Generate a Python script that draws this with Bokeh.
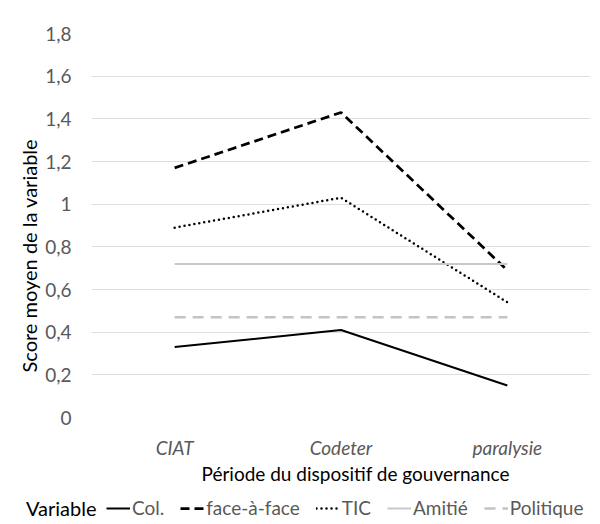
from bokeh.plotting import figure
from bokeh.layouts import column
from bokeh.models import (FactorRange, Range1d, FixedTicker, CustomJSTickFormatter,
                          Legend, LegendItem, Title)
from bokeh.embed import file_html
from bokeh.resources import INLINE

categories = ["CIAT", "Codeter", "paralysie"]
col_vals = [0.33, 0.41, 0.15]
face_vals = [1.17, 1.43, 0.69]
tic_vals = [0.89, 1.03, 0.54]
amitie_vals = [0.72, 0.72, 0.72]
politique_vals = [0.47, 0.47, 0.47]
y_ticks = [0, 0.2, 0.4, 0.6, 0.8, 1.0, 1.2, 1.4, 1.6, 1.8]
series_names = ["Col.", "face-à-face", "TIC", "Amitié", "Politique"]
legend_title = "Variable"

FONT = "Lato"
GRAY = "#595959"
FS = "19px"

styles = [
    dict(line_color="black", line_width=2),
    dict(line_color="black", line_width=2.75, line_dash="9 5"),
    dict(line_color="black", line_width=2.5, line_dash="0 5", line_cap="round"),
    dict(line_color="#c8c8c8", line_width=2),
    dict(line_color="#c4c4c4", line_width=2.5, line_dash="11 7"),
]
series_vals = [col_vals, face_vals, tic_vals, amitie_vals, politique_vals]

# ---- main chart ----
p = figure(width=600, height=490, output_backend="svg", toolbar_location=None,
           x_range=FactorRange(*categories, range_padding=0),
           y_range=Range1d(0, 1.8),
           min_border_left=91, min_border_right=10, min_border_top=33, min_border_bottom=73)
p.outline_line_color = None
p.xgrid.grid_line_color = None
p.ygrid.grid_line_color = "#dedede"
p.ygrid.grid_line_width = 1

p.yaxis.ticker = FixedTicker(ticks=y_ticks)
p.yaxis.formatter = CustomJSTickFormatter(code="return tick.toFixed(1).replace('.', ',').replace(',0', '');")
for ax in (p.xaxis, p.yaxis):
    ax.axis_line_color = None
    ax.major_tick_line_color = None
    ax.minor_tick_line_color = None
    ax.major_label_text_color = GRAY
    ax.major_label_text_font = FONT
    ax.major_label_text_font_size = FS
p.yaxis.major_label_standoff = 14
p.xaxis.major_label_standoff = 12
p.xaxis.major_label_text_font_style = "italic"

for vals, st in zip(series_vals, styles):
    p.line(categories, vals, **st)

p.add_layout(Title(text="Score moyen de la variable", align="left", offset=45, standoff=4,
                   text_font=FONT, text_font_size="20px", text_font_style="normal",
                   text_color="black"), "left")
p.add_layout(Title(text="Période du dispositif de gouvernance", align="left", offset=110, standoff=-4,
                   text_font=FONT, text_font_size=FS, text_font_style="normal",
                   text_color="black"), "below")

# ---- legend strip ----
q = figure(width=600, height=34, output_backend="svg", toolbar_location=None,
           x_range=Range1d(0, 499), y_range=FactorRange(legend_title),
           x_axis_type=None, min_border=0)
q.outline_line_color = None
q.xgrid.visible = False
q.ygrid.visible = False
q.yaxis.axis_line_color = None
q.yaxis.major_tick_line_color = None
q.yaxis.minor_tick_line_color = None
q.yaxis.major_label_text_color = "black"
q.yaxis.major_label_text_font = FONT
q.yaxis.major_label_text_font_size = "20px"
q.yaxis.major_label_standoff = -11
items = []
for name, st in zip(series_names, styles):
    r = q.line([-60, -50], [legend_title, legend_title], **st)
    items.append(LegendItem(label=name, renderers=[r]))
legend = Legend(items=items, orientation="horizontal", location=(15, 5))
legend.background_fill_alpha = 0
legend.border_line_color = None
legend.padding = 0
legend.margin = 0
legend.spacing = 16
legend.glyph_width = 24
legend.glyph_height = 20
legend.label_standoff = 2
legend.label_text_font = FONT
legend.label_text_font_size = FS
legend.label_text_color = GRAY
q.add_layout(legend)

open("out.html", "w").write(file_html(column(p, q, spacing=0), INLINE))
